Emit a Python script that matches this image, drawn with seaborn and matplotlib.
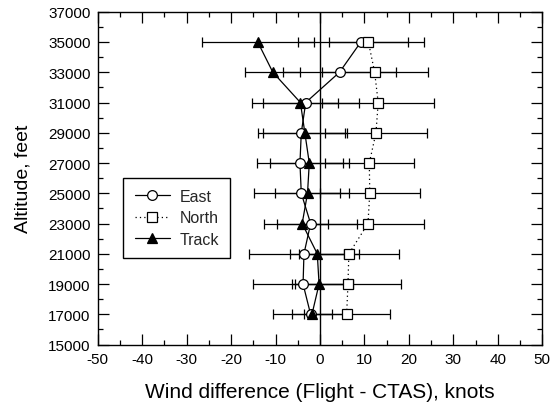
import matplotlib
matplotlib.use("Agg")
import matplotlib.pyplot as plt
from matplotlib.ticker import MultipleLocator
import pandas as pd
import seaborn as sns

# Values
altitude = [35000, 33000, 31000, 29000, 27000, 25000, 23000, 21000, 19000, 17000]
east = [9.2, 4.4, -3.2, -4.2, -4.5, -4.2, -2.1, -3.6, -3.8, -2.1]
east_err = [14.2, 12.7, 12.0, 9.8, 9.7, 10.7, 10.4, 12.4, 11.3, 8.4]
north = [10.9, 12.3, 13.1, 12.6, 11.1, 11.2, 10.8, 6.5, 6.3, 6.0]
north_err = [8.9, 11.9, 12.6, 11.5, 10.0, 11.3, 12.5, 11.2, 12.0, 9.7]
track = [-14.0, -10.6, -4.4, -3.4, -2.4, -2.8, -4.0, -0.6, -0.2, -1.8]
track_err = [12.6, 6.2, 8.5, 9.5, 8.9, 7.4, 5.7, 6.1, 6.0, 4.5]
y_ticks = list(range(15000, 37001, 2000))

df = pd.DataFrame({"alt": altitude, "East": east, "North": north, "Track": track})

sns.set_theme(style="ticks")
plt.rcParams["font.family"] = ["Liberation Sans", "DejaVu Sans"]
plt.rcParams["axes.unicode_minus"] = False

fig, ax = plt.subplots(figsize=(5.55, 4.10), dpi=100)
fig.subplots_adjust(left=0.176, right=0.977, bottom=0.157, top=0.969)

ax.axvline(0, color="black", lw=1.0, zorder=1)

# error bars (black, capped)
for vals, errs in [(east, east_err), (north, north_err), (track, track_err)]:
    ax.errorbar(vals, altitude, xerr=errs, fmt="none", ecolor="black",
                elinewidth=0.9, capsize=3.6, capthick=0.9, zorder=2)

styles = {
    "East": dict(marker="o", markersize=7, markerfacecolor="white", linestyle="-"),
    "North": dict(marker="s", markersize=6.5, markerfacecolor="white", linestyle=(0, (1, 2.5))),
    "Track": dict(marker="^", markersize=7.5, markerfacecolor="black", linestyle="-"),
}
for name, st in styles.items():
    sns.lineplot(data=df, x=name, y="alt", orient="y", ax=ax, color="black",
                 markeredgecolor="black", markeredgewidth=0.9, linewidth=0.9,
                 label=name, zorder=3, **st)

ax.set_xlim(-50, 50)
ax.set_ylim(15000, 37000)
ax.xaxis.set_major_locator(MultipleLocator(10))
ax.xaxis.set_minor_locator(MultipleLocator(5))
ax.set_yticks(y_ticks)
ax.yaxis.set_minor_locator(MultipleLocator(1000))
ax.tick_params(which="both", direction="in", top=True, right=True,
               color="black", width=0.9, labelsize=11, labelcolor="black")
ax.tick_params(which="major", length=8, pad=5)
ax.tick_params(which="minor", length=3.5)
for sp in ax.spines.values():
    sp.set_color("black")
    sp.set_linewidth(1.0)

ax.set_xlabel("Wind difference (Flight - CTAS), knots", fontsize=15, color="black", labelpad=12)
ax.set_ylabel("Altitude, feet", fontsize=14, color="black", labelpad=12)

leg = ax.legend(loc="upper left", bbox_to_anchor=(0.04, 0.525), fontsize=11.5,
                frameon=True, fancybox=False, edgecolor="black", framealpha=1,
                handlelength=2.2, borderpad=0.7, labelspacing=0.4, handletextpad=0.6)
leg.get_frame().set_linewidth(1.0)

fig.savefig("out.png", dpi=100, facecolor="white")
